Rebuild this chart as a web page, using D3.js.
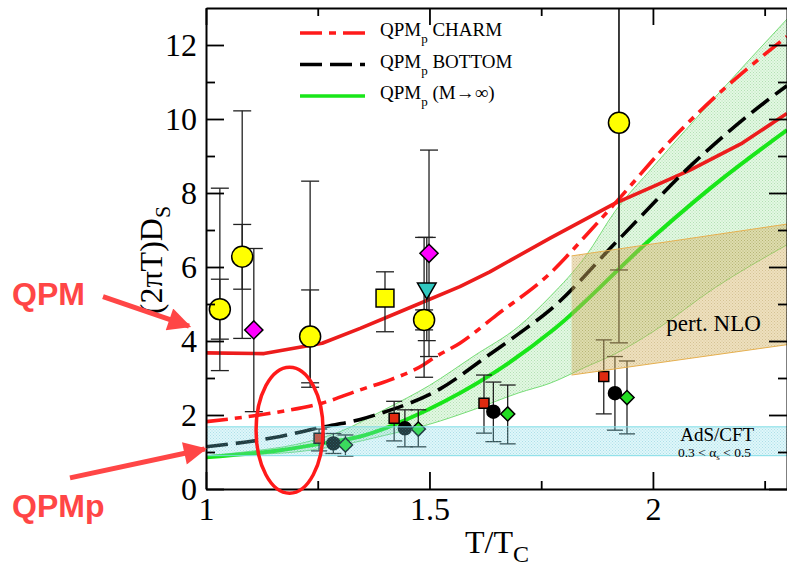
<!DOCTYPE html>
<html>
<head>
<meta charset="utf-8">
<script src="https://cdn.jsdelivr.net/npm/d3@7"></script>
<style>
  body { margin: 0; background: #fff; }
  svg { display: block; }
</style>
</head>
<body>
<svg id="chart" width="787" height="570"></svg>
<script>
// ---- axis ticks ----
const tMajor = [1, 1.5, 2];
const tMinor = [1.25, 1.75, 2.25];
const dMajor = [0, 2, 4, 6, 8, 10, 12];
const dMinor = [1, 3, 5, 7, 9, 11];

// ---- model curves: (2πT)D_s versus T/Tc ----
const qpmT = [1.0, 1.13, 1.26, 1.345, 1.434, 1.568, 1.635, 1.77, 1.915, 2.0, 2.083, 2.2, 2.3];
const qpmD = [3.68, 3.66, 3.94, 4.34, 4.79, 5.47, 5.87, 6.78, 7.72, 8.17, 8.62, 9.35, 10.15];

const charmT = [1.0, 1.166, 1.259, 1.345, 1.412, 1.486, 1.512, 1.568, 1.65, 1.77, 1.85, 1.915, 2.05, 2.135, 2.3];
const charmD = [1.82, 2.09, 2.32, 2.68, 2.95, 3.35, 3.56, 3.94, 4.7, 5.83, 6.85, 7.72, 9.55, 10.55, 12.23];

const bottomT = [1.0, 1.166, 1.255, 1.345, 1.389, 1.523, 1.628, 1.7, 1.77, 1.92, 2.09, 2.247, 2.3];
const bottomD = [1.14, 1.42, 1.66, 1.88, 2.04, 2.7, 3.58, 4.2, 4.84, 6.7, 8.8, 10.42, 10.9];

const heavyT = [1.0, 1.166, 1.255, 1.345, 1.494, 1.643, 1.78, 1.993, 2.142, 2.3];
const heavyD = [0.86, 1.05, 1.22, 1.42, 2.13, 3.13, 4.33, 6.73, 8.26, 9.7];

// uncertainty band of the QPMp result
const bandT  = [1.0, 1.1, 1.2, 1.3, 1.4, 1.5, 1.6, 1.7, 1.77, 1.85, 1.915, 2.0, 2.14, 2.3];
const bandLo = [0.86, 0.93, 1.0, 1.18, 1.45, 1.75, 2.15, 2.6, 2.86, 3.3, 3.65, 4.25, 5.45, 6.6];
const bandHi = [0.9, 1.02, 1.2, 1.55, 2.15, 2.8, 3.6, 4.4, 5.2, 6.3, 7.5, 8.7, 10.6, 12.7];

// perturbative NLO band and AdS/CFT band
const nloT = [1.818, 2.3];
const nloLo = [3.08, 3.9];
const nloHi = [6.3, 7.16];
const adsT = [1.0, 2.3];
const adsLo = [0.9, 0.9];
const adsHi = [1.68, 1.68];

// ---- lattice points ----
const circT   = [1.031, 1.081, 1.233, 1.488, 1.924];
const circD   = [4.86, 6.28, 4.12, 4.57, 9.9];
const circLo  = [3.2, 4.07, 2.75, 3.02, 3.95];
const circHi  = [8.13, 10.22, 8.32, 6.8, 14];
const circLo2 = [4.05, 5.4, 2.87, 4.3, 5.92];
const circHi2 = [5.67, 7.15, 5.38, 4.84, 14];

const magT  = [1.107, 1.499];
const magD  = [4.3, 6.37];
const magLo = [2.09, 3.58];
const magHi = [6.5, 9.16];

const sqT  = [1.4005];
const sqD  = [5.16];
const sqLo = [4.25];
const sqHi = [5.87];

const triT  = [1.494];
const triD  = [5.42];
const triLo = [4.01];
const triHi = [6.8];

const redT  = [1.253, 1.421, 1.622, 1.89];
const redD  = [1.37, 1.91, 2.32, 3.04];
const redLo = [1.03, 1.3, 1.51, 2.03];
const redHi = [1.62, 2.37, 3.08, 4.03];

const blkT  = [1.285, 1.445, 1.643, 1.915];
const blkD  = [1.23, 1.64, 2.09, 2.59];
const blkLo = [0.96, 1.14, 1.28, 1.59];
const blkHi = [1.5, 2.14, 2.89, 3.58];

const grnT  = [1.312, 1.475, 1.675, 1.942];
const grnD  = [1.19, 1.62, 2.03, 2.47];
const grnLo = [0.89, 1.14, 1.22, 1.49];
const grnHi = [1.46, 2.14, 2.81, 3.46];

// ---- legend ----
const legendNames = ["CHARM", "BOTTOM", "(M\u2192\u221E)"];
const legendColors = ["#ff1a1a", "#000000", "#19e619"];
const legendDash = ["22,7,7,7", "22,8", null];

// ---- layout ----
const svg = d3.select("#chart");
const x = d3.scaleLinear().domain([1, 2.3]).range([206, 787]);
const y = d3.scaleLinear().domain([0, 13]).range([489, 8]);
const serif = "'Liberation Serif', 'Times New Roman', serif";
const sans = "'Liberation Sans', Arial, sans-serif";

const defs = svg.append("defs");
defs.append("clipPath").attr("id", "plot-clip")
  .append("rect").attr("x", 206).attr("y", 8).attr("width", 581).attr("height", 481);

function hatch(id, base, dot) {
  const p = defs.append("pattern").attr("id", id)
    .attr("width", 3).attr("height", 3).attr("patternUnits", "userSpaceOnUse");
  p.append("rect").attr("width", 3).attr("height", 3).attr("fill", base);
  p.append("rect").attr("x", 0).attr("y", 0).attr("width", 1).attr("height", 1).attr("fill", dot);
  p.append("rect").attr("x", 1.5).attr("y", 1.5).attr("width", 1).attr("height", 1).attr("fill", dot);
}
hatch("hatch-green", "rgba(140,225,140,0.24)", "rgba(70,170,70,0.30)");
hatch("hatch-cyan", "rgba(130,225,235,0.26)", "rgba(60,170,190,0.30)");
hatch("hatch-nlo", "rgba(215,180,100,0.42)", "rgba(160,130,60,0.32)");

const plot = svg.append("g").attr("clip-path", "url(#plot-clip)");

const zip = (a, b) => a.map((v, i) => [v, b[i]]);
const line = (curve) => d3.line().x(d => x(d[0])).y(d => y(d[1])).curve(curve);

const area = (ts, lo, hi) => d3.area()
  .x((d, i) => x(ts[i])).y0((d, i) => y(lo[i])).y1((d, i) => y(hi[i]))
  .curve(d3.curveMonotoneX)(ts);
function band(ts, lo, hi, fill, edge) {
  plot.append("path").attr("d", area(ts, lo, hi)).attr("fill", fill);
  [lo, hi].forEach(e => {
    plot.append("path").datum(zip(ts, e)).attr("d", line(d3.curveMonotoneX))
      .attr("fill", "none").attr("stroke", edge).attr("stroke-width", 1);
  });
}

// QPMp uncertainty band sits under the curves
band(bandT, bandLo, bandHi, "url(#hatch-green)", "#77dd77");

// model curves
plot.append("path").datum(zip(qpmT, qpmD))
  .attr("d", line(d3.curveLinear)).attr("fill", "none")
  .attr("stroke", "#ec1c1c").attr("stroke-width", 3.6).attr("stroke-linejoin", "round");
plot.append("path").datum(zip(charmT, charmD))
  .attr("d", line(d3.curveMonotoneX)).attr("fill", "none")
  .attr("stroke", legendColors[0]).attr("stroke-width", 3.6).attr("stroke-dasharray", legendDash[0]);
plot.append("path").datum(zip(bottomT, bottomD))
  .attr("d", line(d3.curveMonotoneX)).attr("fill", "none")
  .attr("stroke", legendColors[1]).attr("stroke-width", 3.6).attr("stroke-dasharray", legendDash[1]);
plot.append("path").datum(zip(heavyT, heavyD))
  .attr("d", line(d3.curveMonotoneX)).attr("fill", "none")
  .attr("stroke", legendColors[2]).attr("stroke-width", 4);

// error bars
function errorBars(ts, lo, hi, cap) {
  ts.forEach((t, i) => {
    const cx = x(t);
    plot.append("line").attr("x1", cx).attr("x2", cx)
      .attr("y1", y(lo[i])).attr("y2", y(hi[i]))
      .attr("stroke", "#222").attr("stroke-width", 1.3);
    [lo[i], hi[i]].forEach(v => {
      plot.append("line").attr("x1", cx - cap / 2).attr("x2", cx + cap / 2)
        .attr("y1", y(v)).attr("y2", y(v))
        .attr("stroke", "#222").attr("stroke-width", 1.3);
    });
  });
}
errorBars(circT, circLo, circHi, 18);
errorBars(circT, circLo2, circHi2, 18);
errorBars(magT, magLo, magHi, 18);
errorBars(sqT, sqLo, sqHi, 18);
errorBars(triT, triLo, triHi, 18);
errorBars(redT, redLo, redHi, 16);
errorBars(blkT, blkLo, blkHi, 16);
errorBars(grnT, grnLo, grnHi, 16);

// symbols
function symbols(ts, ds, type, size, fill, rotate) {
  ts.forEach((t, i) => {
    plot.append("path")
      .attr("d", d3.symbol().type(type).size(size)())
      .attr("transform", `translate(${x(t)},${y(ds[i])}) rotate(${rotate})`)
      .attr("fill", fill).attr("stroke", "#000").attr("stroke-width", 1.5);
  });
}
symbols(circT, circD, d3.symbolCircle, Math.PI * 10.5 * 10.5, "#ffff00", 0);
symbols(magT, magD, d3.symbolSquare, 165, "#ff00ff", 45);
symbols(sqT, sqD, d3.symbolSquare, 320, "#ffff00", 0);
symbols(triT, triD, d3.symbolTriangle, 150, "#30c8c0", 180);
symbols(redT, redD, d3.symbolSquare, 100, "#e02a10", 0);
symbols(blkT, blkD, d3.symbolCircle, Math.PI * 6.5 * 6.5, "#000000", 0);
symbols(grnT, grnD, d3.symbolSquare, 100, "#22dd22", 45);

// NLO and AdS/CFT bands, hatched over the curves
band(nloT, nloLo, nloHi, "url(#hatch-nlo)", "#e6b050");
band(adsT, adsLo, adsHi, "url(#hatch-cyan)", "#7fdde6");

// band labels
plot.append("text").attr("x", x(2.03)).attr("y", y(4.27))
  .attr("font-family", serif).attr("font-size", 23).attr("fill", "#000")
  .text("pert. NLO");
plot.append("text").attr("x", x(2.061)).attr("y", y(1.3))
  .attr("font-family", serif).attr("font-size", 19).attr("fill", "#000")
  .text("AdS/CFT");
const ads2 = plot.append("text").attr("x", x(2.056)).attr("y", y(0.87))
  .attr("font-family", serif).attr("font-size", 13.5).attr("fill", "#000");
ads2.append("tspan").text("0.3 < \u03B1");
ads2.append("tspan").attr("font-size", 9).attr("dy", 3).text("s");
ads2.append("tspan").attr("dy", -3).text(" < 0.5");

// ---- axes ----
function styleAxis(g, width) {
  g.select(".domain").attr("stroke", "#000").attr("stroke-width", width);
  g.selectAll(".tick line").attr("stroke", "#000").attr("stroke-width", 1.8);
}
const bottomAxis = svg.append("g").attr("transform", "translate(0,489)")
  .call(d3.axisBottom(x).tickValues(tMajor).tickSize(-17).tickSizeOuter(0)
    .tickFormat(d3.format("")));
styleAxis(bottomAxis, 2);
bottomAxis.selectAll(".tick text").attr("y", 31).attr("dy", null)
  .attr("font-family", serif).attr("font-size", 32).attr("fill", "#000");
svg.append("g").attr("transform", "translate(0,489)")
  .call(d3.axisBottom(x).tickValues(tMinor).tickSize(-8).tickFormat(""))
  .call(g => { g.select(".domain").remove(); styleAxis(g, 2); });

const topAxis = svg.append("g").attr("transform", "translate(0,8)")
  .call(d3.axisTop(x).tickValues(tMajor).tickSize(-17).tickSizeOuter(0).tickFormat(""));
styleAxis(topAxis, 2);
svg.append("g").attr("transform", "translate(0,8)")
  .call(d3.axisTop(x).tickValues(tMinor).tickSize(-8).tickFormat(""))
  .call(g => { g.select(".domain").remove(); styleAxis(g, 2); });

const leftAxis = svg.append("g").attr("transform", "translate(206,0)")
  .call(d3.axisLeft(y).tickValues(dMajor).tickSize(-18).tickSizeOuter(0).tickPadding(9));
styleAxis(leftAxis, 2);
leftAxis.selectAll(".tick text").attr("dy", "0.33em")
  .attr("font-family", serif).attr("font-size", 32).attr("fill", "#000");
svg.append("g").attr("transform", "translate(206,0)")
  .call(d3.axisLeft(y).tickValues(dMinor).tickSize(-9).tickFormat(""))
  .call(g => { g.select(".domain").remove(); styleAxis(g, 2); });

const rightAxis = svg.append("g").attr("transform", "translate(787,0)")
  .call(d3.axisRight(y).tickValues(dMajor).tickSize(-18).tickSizeOuter(0).tickFormat(""));
styleAxis(rightAxis, 2);
svg.append("g").attr("transform", "translate(787,0)")
  .call(d3.axisRight(y).tickValues(dMinor).tickSize(-9).tickFormat(""))
  .call(g => { g.select(".domain").remove(); styleAxis(g, 2); });

// axis titles
const xt = svg.append("text").attr("x", 465).attr("y", 553)
  .attr("font-family", serif).attr("font-size", 32).attr("fill", "#000");
xt.append("tspan").text("T/T");
xt.append("tspan").attr("font-size", 24).attr("dy", 9).text("C");

const yt = svg.append("text").attr("transform", "translate(162,260) rotate(-90)")
  .attr("text-anchor", "middle")
  .attr("font-family", serif).attr("font-size", 32).attr("fill", "#000");
yt.append("tspan").text("(2\u03C0T)D");
yt.append("tspan").attr("font-size", 22).attr("dy", 8).text("S");

// ---- legend ----
legendNames.forEach((name, i) => {
  const ly = 33 + i * 31.5;
  svg.append("line").attr("x1", 300).attr("x2", 365).attr("y1", ly).attr("y2", ly)
    .attr("stroke", legendColors[i]).attr("stroke-width", 3.6)
    .attr("stroke-dasharray", legendDash[i]);
  const t = svg.append("text").attr("x", 380).attr("y", ly + 3)
    .attr("font-family", serif).attr("font-size", 19).attr("fill", "#000");
  t.append("tspan").text("QPM");
  t.append("tspan").attr("font-size", 13).attr("dy", 7).text("p");
  t.append("tspan").attr("dy", -7).text(" " + name);
});

// ---- annotations ----
const annRed = "#ff4646";
defs.append("marker").attr("id", "head").attr("viewBox", "0 0 10 10")
  .attr("refX", 9).attr("refY", 5).attr("markerWidth", 5.4).attr("markerHeight", 4.6)
  .attr("markerUnits", "strokeWidth").attr("orient", "auto")
  .append("path").attr("d", "M0,0 L10,5 L0,10 Z").attr("fill", annRed);

svg.append("line").attr("x1", 103).attr("y1", y(5.2)).attr("x2", x(0.962)).attr("y2", y(4.4))
  .attr("stroke", annRed).attr("stroke-width", 5).attr("marker-end", "url(#head)");
svg.append("line").attr("x1", 70).attr("y1", y(0.3)).attr("x2", x(0.997)).attr("y2", y(1.08))
  .attr("stroke", annRed).attr("stroke-width", 5).attr("marker-end", "url(#head)");

svg.append("text").attr("x", 12).attr("y", 305)
  .attr("font-family", sans).attr("font-weight", "bold").attr("font-size", 32)
  .attr("fill", annRed).text("QPM");
svg.append("text").attr("x", 12).attr("y", 517)
  .attr("font-family", sans).attr("font-weight", "bold").attr("font-size", 32)
  .attr("fill", annRed).text("QPMp");

svg.append("ellipse").attr("cx", x(1.187)).attr("cy", y(1.59))
  .attr("rx", 33.5).attr("ry", 63)
  .attr("fill", "none").attr("stroke", "#ff1a1a").attr("stroke-width", 3.5);
</script>
</body>
</html>
